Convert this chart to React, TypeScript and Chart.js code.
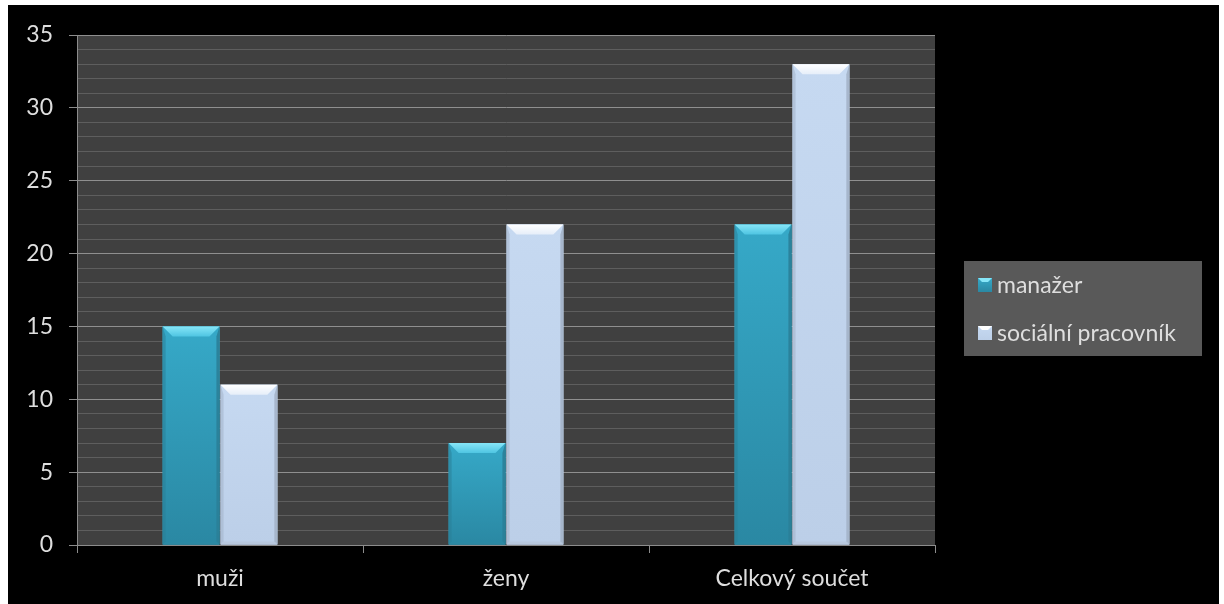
import React, { useEffect, useRef } from "react";
import { Chart, registerables } from "chart.js";

Chart.register(...registerables);

const categories = ["muži", "ženy", "Celkový součet"];
const seriesNames = ["manažer", "sociální pracovník"];
const manazer = [15, 7, 22];
const socialniPracovnik = [11, 22, 33];
const yMax = 35;
const yMajorStep = 5;

const FONT = "Lato, 'Open Sans', sans-serif";
const TEXT = "#dedede";

type Palette = { body: string; bodyDark: string; top: string; topDark: string; side: string; bottom: string };
const palettes: Palette[] = [
  { body: "#36a9c8", bodyDark: "#2a88a3", top: "#86e6f8", topDark: "#4fc5e2", side: "#2a7f98", bottom: "#2c8aa4" },
  { body: "#c6d9f1", bodyDark: "#bccfe8", top: "#ffffff", topDark: "#e6eef9", side: "#a3b3c8", bottom: "#b6c6db" },
];

// Plot background
const plotBg = {
  id: "plotBg",
  beforeDraw(chart: any) {
    const { ctx, chartArea: a } = chart;
    ctx.save();
    ctx.fillStyle = "#404040";
    ctx.fillRect(a.left, a.top, a.right - a.left, a.bottom - a.top);
    ctx.restore();
  },
};

// Bevelled bar faces drawn over the library's bar elements
const bevel = {
  id: "bevel",
  afterDatasetsDraw(chart: any) {
    const ctx = chart.ctx;
    chart.data.datasets.forEach((_: any, di: number) => {
      const meta = chart.getDatasetMeta(di);
      const p = palettes[di];
      meta.data.forEach((bar: any) => {
        const { x, y, base, width } = bar.getProps(["x", "y", "base", "width"], true);
        const l = x - width / 2;
        const r = x + width / 2;
        const t = y;
        const b = base;
        const bv = Math.min(10, (b - t) / 3);
        const sv = 3;
        ctx.save();
        // body
        const g = ctx.createLinearGradient(0, t, 0, b);
        g.addColorStop(0, p.body);
        g.addColorStop(1, p.bodyDark);
        ctx.fillStyle = g;
        ctx.fillRect(l, t, width, b - t);
        // left / right edges
        ctx.fillStyle = p.side;
        ctx.globalAlpha = 0.55;
        ctx.beginPath();
        ctx.moveTo(l, t);
        ctx.lineTo(l + sv, t + bv);
        ctx.lineTo(l + sv, b - sv);
        ctx.lineTo(l, b);
        ctx.closePath();
        ctx.fill();
        ctx.globalAlpha = 0.9;
        ctx.beginPath();
        ctx.moveTo(r, t);
        ctx.lineTo(r - sv, t + bv);
        ctx.lineTo(r - sv, b - sv);
        ctx.lineTo(r, b);
        ctx.closePath();
        ctx.fill();
        // bottom edge
        ctx.globalAlpha = 0.8;
        ctx.fillStyle = p.bottom;
        ctx.beginPath();
        ctx.moveTo(l, b);
        ctx.lineTo(l + sv, b - sv);
        ctx.lineTo(r - sv, b - sv);
        ctx.lineTo(r, b);
        ctx.closePath();
        ctx.fill();
        // top bevel
        ctx.globalAlpha = 1;
        const tg = ctx.createLinearGradient(0, t, 0, t + bv);
        tg.addColorStop(0, p.top);
        tg.addColorStop(1, p.topDark);
        ctx.fillStyle = tg;
        ctx.beginPath();
        ctx.moveTo(l, t);
        ctx.lineTo(r, t);
        ctx.lineTo(r - bv, t + bv);
        ctx.lineTo(l + bv, t + bv);
        ctx.closePath();
        ctx.fill();
        ctx.restore();
      });
    });
  },
};

// Boxed legend on the right
const boxLegend = {
  id: "boxLegend",
  afterDraw(chart: any) {
    const ctx = chart.ctx;
    const bx = 956;
    const by = 256;
    const bw = 238;
    const bh = 95;
    ctx.save();
    ctx.fillStyle = "#595959";
    ctx.fillRect(bx, by, bw, bh);
    ctx.font = `23px ${FONT}`;
    ctx.textBaseline = "middle";
    chart.data.datasets.forEach((ds: any, i: number) => {
      const p = palettes[i];
      const cy = by + 24 + i * 48;
      const mx = bx + 14;
      const ms = 14;
      const my = cy - ms / 2;
      const g = ctx.createLinearGradient(0, my, 0, my + ms);
      g.addColorStop(0, p.body);
      g.addColorStop(1, p.bodyDark);
      ctx.fillStyle = g;
      ctx.fillRect(mx, my, ms, ms);
      ctx.fillStyle = p.top;
      ctx.beginPath();
      ctx.moveTo(mx, my);
      ctx.lineTo(mx + ms, my);
      ctx.lineTo(mx + ms - 4, my + 4);
      ctx.lineTo(mx + 4, my + 4);
      ctx.closePath();
      ctx.fill();
      ctx.fillStyle = TEXT;
      ctx.fillText(ds.label, mx + ms + 5, cy + 1);
    });
    ctx.restore();
  },
};

export default function App() {
  const ref = useRef<HTMLCanvasElement>(null);
  useEffect(() => {
    if (!ref.current) return;
    const chart = new Chart(ref.current, {
      type: "bar",
      data: {
        labels: categories,
        datasets: [
          { label: seriesNames[0], data: manazer, backgroundColor: palettes[0].body },
          { label: seriesNames[1], data: socialniPracovnik, backgroundColor: palettes[1].body },
        ],
      },
      options: {
        animation: false,
        responsive: false,
        events: [],
        layout: { padding: { left: 0, top: 30, right: 284, bottom: 0 } },
        datasets: { bar: { categoryPercentage: 0.405, barPercentage: 0.98 } },
        plugins: { legend: { display: false }, tooltip: { enabled: false } },
        scales: {
          x: {
            grid: { drawOnChartArea: false, color: "#8c8c8c", tickLength: 8 },
            border: { color: "#8c8c8c" },
            ticks: { color: TEXT, font: { family: FONT, size: 23 }, padding: 12 },
            afterFit: (s: any) => {
              s.height = 59;
            },
          },
          y: {
            min: 0,
            max: yMax,
            grid: {
              color: (c: any) => (c.tick && c.tick.value % yMajorStep === 0 ? "#8f8f8f" : "#5e5e5e"),
              tickColor: (c: any) => (c.tick && c.tick.value % yMajorStep === 0 ? "#8c8c8c" : "rgba(0,0,0,0)"),
              tickLength: 8,
            },
            border: { color: "#8c8c8c" },
            ticks: {
              stepSize: 1,
              autoSkip: false,
              color: TEXT,
              font: { family: FONT, size: 23 },
              padding: 16,
              callback: (v: any) => (Number(v) % yMajorStep === 0 ? String(v) : ""),
            },
            afterFit: (s: any) => {
              s.width = 69;
            },
          },
        },
      },
      plugins: [plotBg, bevel, boxLegend],
    });
    return () => chart.destroy();
  }, []);
  return (
    <div style={{ position: "fixed", left: 8, top: 5, width: 1211, height: 599, background: "#000" }}>
      <canvas ref={ref} width={1211} height={599} style={{ display: "block" }} />
    </div>
  );
}
